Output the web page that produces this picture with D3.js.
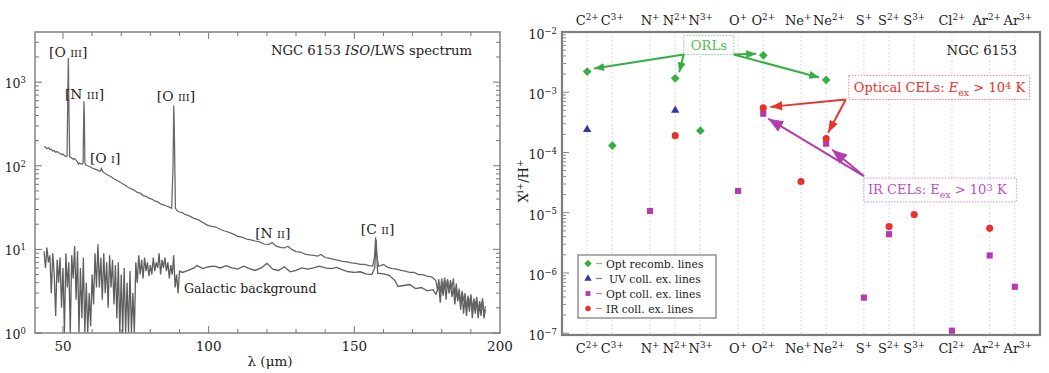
<!DOCTYPE html>
<html><head><meta charset="utf-8">
<script src="https://cdn.jsdelivr.net/npm/d3@7"></script>
<style>body{margin:0;background:#fff}svg{display:block}text{fill:#222}</style>
</head><body><svg id="c" width="1049" height="373" font-family="'DejaVu Serif', 'Liberation Serif', serif"></svg>
<script>
// ---------- Left panel data: NGC 6153 ISO/LWS spectrum ----------
const objWave = [43.6,44.5,45,45.5,46,46.5,47,47.5,48,48.5,49,49.5,50,50.5,51,51.4,51.7,51.85,52.0,52.3,53,53.5,54,54.5,55,55.3,55.6,56,56.5,56.9,57.2,57.35,57.5,57.8,58.5,59,59.5,60,61,62,62.8,63.2,63.6,64.5,65.5,66.5,67.5,68.5,69.5,70.5,71.5,72.5,73.5,74.5,75.5,76.5,77.5,78.5,79.5,80.5,81.5,82.5,83.5,84.5,85.5,86.5,87.3,87.8,88.0,88.2,88.6,89.2,90,91,92,93,94,95,96.5,98,99.5,101,102.5,104,105.5,107,108.5,110,111.5,113,114.5,116,117.5,119,120.5,121.8,123,124.5,126,127.2,128.5,130,131.5,133,134.5,136,137.5,138.5,140,141.5,143,144.5,146,147.5,149,150.5,152,153.5,155,156.3,156.9,157.3,157.7,158.3,159,160,161.5,163,164.5,166,167.5,169,170.5,172,173.5,175,176.5,177.5,178,178.5,179,179.5,180,180.5,181,181.5,182,182.5,183,183.5,184,184.5,185,185.5,186,186.5,187,187.5,188,188.5,189,189.5,190,190.5,191,191.5,192,192.5,193,193.5,194,194.5,195];
const objFlux = [172,160,165,156,158,150,152,145,148,143,140,136,138,132,130,131,900,1950,600,128,124,120,122,116,112,104,108,106,104,108,590,400,110,102,100,98,97,94,91,88,86,93,85,81,77,74,70,67,64,61,58,55,53,51,48,47,44,43,41,40,38,37,35,34,33,32,31,100,525,300,31,29,28,27.5,26,25.5,24.5,23.5,22.5,21,19.5,18.8,18.5,17.3,16.6,16,15.2,14.3,14,13.3,13,12.6,12.3,11.6,11.4,12.1,11,10.6,10.4,10.9,10,9.4,9.3,8.8,8.6,8.5,8.3,8.7,8.0,7.8,7.6,7.4,7.2,7.1,6.9,6.8,6.6,6.6,6.4,6.3,8,14,8.5,6.3,6.4,6.6,6.1,5.9,5.8,5.6,5.5,5.3,5.3,5.0,5.0,4.8,4.7,4.4,4.2,3.3,4.4,3.0,4.5,3.3,4.6,3.5,4.4,3.0,4.3,3.4,4.5,2.8,3.9,2.6,3.4,2.2,3.2,2.4,3.0,2.0,2.8,2.2,2.9,1.9,2.6,2.1,2.7,1.8,2.4,2.0,2.5,1.7,2.1];
const bgWave = [43.5,44,44.5,45,45.5,46,46.5,47,47.5,48,48.5,49,49.5,50,50.5,51,51.5,52,52.5,53,53.5,54,54.5,55,55.5,56,56.5,57,57.5,58,58.5,59,59.5,60,60.5,61,61.5,62,62.5,63,63.5,64,64.5,65,65.5,66,66.5,67,67.5,68,68.5,69,69.5,70,70.5,71,71.5,72,72.5,73,73.5,74,74.5,75,75.5,76,76.5,77,77.5,78,78.5,79,79.5,80,80.5,81,81.5,82,82.5,83,83.5,84,84.5,85,85.5,86,86.5,87,87.5,88,88.5,89,89.5,90,91,93,95,96,98,100,102,104,106,108,110,112,114,116,118,120,122,124,126,128,130,132,134,136,138,140,142,144,146,148,150,152,154,156,157,157.5,158,160,162,164,165,167,169,171,173,175,177,178,179,179.5,180,180.5,181,181.5,182,182.5,183,183.5,184,184.5,185,185.5,186,186.5,187,187.5,188,188.5,189,189.5,190,190.5,191,191.5,192,192.5,193,193.5,194,194.5,195];
const bgFlux = [9.5,6,10.5,7,8.5,3,9,5,1.6,7.5,4,8,2,6,0.8,9,3.5,7,0.6,8.5,4.5,11,2.5,9.5,0.7,6,1.5,8,0.9,4,0.5,3,1.2,5,2.2,9,3.5,11.5,3.5,8,2.5,9,3,7,2,8.5,3.5,7.5,2.2,6.5,1.5,7,1.0,5,0.6,6,0.8,4,0.5,5.5,0.6,3,0.5,7,4,8.5,5,7.5,4.5,8,5.5,7,4.8,6.5,5,8,5.5,7,6,9,5,7.5,6,8,5.5,7,4.5,6.5,5,8.5,3.5,5,3,5.5,5.3,5.6,6.0,6.4,5.9,6.2,6.3,6.0,6.4,6.0,5.8,6.3,5.9,5.6,6.0,6.8,5.8,5.6,6.2,5.4,5.6,6.0,5.8,6.0,6.3,6.0,5.9,6.1,5.7,5.4,5.3,5.4,5.1,5.0,6,13,5.2,5.1,4.9,4.2,3.6,3.7,3.8,3.4,3.5,3.2,3.3,2.9,3.6,2.3,3.8,2.8,4.2,2.5,4.3,3,4.0,2.7,3.5,2.2,3.3,2.4,3.1,1.9,3.0,1.7,2.7,1.6,2.6,1.8,2.8,1.5,2.4,1.7,2.5,1.5,2.2,1.6,2.6,1.5,1.9];
const xTicksL = [50,100,150,200];
const yDecadesL = [0,1,2,3];

// ---------- Right panel data: ionic abundances ----------
const ionNames   = ["C","C","N","N","N","O","O","Ne","Ne","S","S","S","Cl","Ar","Ar"];
const ionCharges = ["2+","3+","+","2+","3+","+","2+","+","2+","+","2+","3+","2+","2+","3+"];
const ionPos     = [0,1,2.5,3.5,4.5,6,7,8.5,9.5,11,12,13,14.5,16,17];
const orlIons = ["C2+","C3+","N2+","N3+","O2+","Ne2+"];
const orlVals = [2.2e-3,1.3e-4,1.7e-3,2.3e-4,4.1e-3,1.6e-3];
const uvIons  = ["C2+","N2+"];
const uvVals  = [2.4e-4,5.0e-4];
const optIons = ["N+","O+","O2+","Ne2+","S+","S2+","Cl2+","Ar2+","Ar3+"];
const optVals = [1.07e-5,2.3e-5,4.4e-4,1.4e-4,3.9e-7,4.4e-6,1.1e-7,1.95e-6,5.9e-7];
const irIons  = ["N2+","O2+","Ne+","Ne2+","S2+","S3+","Ar2+"];
const irVals  = [1.9e-4,5.5e-4,3.3e-5,1.7e-4,5.9e-6,9.3e-6,5.5e-6];
const yDecadesR = [-7,-6,-5,-4,-3,-2];
const legendLabels = ["Opt recomb. lines","UV coll. ex. lines","Opt coll. ex. lines","IR coll. ex. lines"];

const svg = d3.select("#c");

function supText(g, x, y, base, sup, size, anchor, color) {
  const t = g.append("text").attr("x", x).attr("y", y).attr("text-anchor", anchor)
    .attr("font-size", size).style("fill", color || "#222");
  t.append("tspan").text(base);
  t.append("tspan").attr("dy", -size * 0.42).attr("font-size", size * 0.68).text(sup);
  return t;
}

// ================= LEFT PANEL =================
const L = {l: 35, r: 500, t: 32, b: 333};
const xL = d3.scaleLinear().domain([40.4, 200]).range([L.l, L.r]);
const yL = d3.scaleLog().domain([1, 3981]).range([L.b, L.t]);
const gL = svg.append("g");

// values below the axis floor (1) are drawn on the bottom edge
const lineL = d3.line().x(d => xL(d[0])).y(d => yL(Math.max(d[1], 1)));
const bgPts = bgWave.map((w, i) => [w, bgFlux[i]]);
const objPts = objWave.map((w, i) => [w, objFlux[i]]);
gL.append("path").attr("d", lineL(bgPts))
  .attr("fill", "none").attr("stroke", "#5e5e5e").attr("stroke-width", 1.3);
gL.append("path").attr("d", lineL(objPts))
  .attr("fill", "none").attr("stroke", "#666").attr("stroke-width", 1.25);

gL.append("rect").attr("x", L.l).attr("y", L.t).attr("width", L.r - L.l).attr("height", L.b - L.t)
  .attr("fill", "none").attr("stroke", "#8a8a8a").attr("stroke-width", 1.6);
d3.range(50, 200, 10).forEach(v => {
  const len = xTicksL.includes(v) ? 7 : 4;
  gL.append("line").attr("x1", xL(v)).attr("x2", xL(v)).attr("y1", L.b).attr("y2", L.b - len).attr("stroke", "#777");
  gL.append("line").attr("x1", xL(v)).attr("x2", xL(v)).attr("y1", L.t).attr("y2", L.t + len).attr("stroke", "#777");
});
xTicksL.forEach(v => {
  gL.append("text").attr("x", xL(v)).attr("y", 351).attr("text-anchor", "middle").attr("font-size", 13.5).text(v);
});
yL.ticks().forEach(v => {
  const major = Math.abs(Math.log10(v) - Math.round(Math.log10(v))) < 1e-9;
  const len = major ? 7 : 4;
  gL.append("line").attr("x1", L.l).attr("x2", L.l + len).attr("y1", yL(v)).attr("y2", yL(v)).attr("stroke", "#777");
  gL.append("line").attr("x1", L.r).attr("x2", L.r - len).attr("y1", yL(v)).attr("y2", yL(v)).attr("stroke", "#777");
});
yDecadesL.forEach(d => supText(gL, 26, yL(Math.pow(10, d)) + 6, "10", String(d), 12.5, "end"));
gL.append("text").attr("x", 270).attr("y", 366).attr("text-anchor", "middle").attr("font-size", 13.5).text("λ (μm)");

const tt = gL.append("text").attr("x", 472).attr("y", 55).attr("text-anchor", "end").attr("font-size", 13.2);
tt.append("tspan").text("NGC 6153 ");
tt.append("tspan").attr("font-style", "italic").text("ISO");
tt.append("tspan").text("/LWS spectrum");

function lineLabel(x, y, el, ion) {
  const t = gL.append("text").attr("x", x).attr("y", y).attr("text-anchor", "middle").attr("font-size", 13.8);
  t.append("tspan").text("[" + el + " ");
  t.append("tspan").attr("font-size", 10).text(ion);
  t.append("tspan").text("]");
}
lineLabel(xL(51.8), 57, "O", "III");
lineLabel(xL(57.4), 99, "N", "III");
lineLabel(xL(88.8), 101, "O", "III");
lineLabel(xL(64.5), 163, "O", "I");
lineLabel(xL(122), 238, "N", "II");
lineLabel(xL(158), 234, "C", "II");
gL.append("text").attr("x", 184).attr("y", 293).attr("font-size", 12.6).text("Galactic background");

// ================= RIGHT PANEL =================
const R = {l: 562, r: 1040, t: 32, b: 335};
const xR = d3.scaleLinear().domain([-1, 18]).range([R.l, R.r]);
const yR = d3.scaleLog().domain([Math.pow(10, -7.03), 1e-2]).range([R.b, R.t]);
const gR = svg.append("g");
const posOf = {};
ionNames.forEach((n, i) => posOf[n + ionCharges[i]] = ionPos[i]);

ionPos.forEach(p => {
  gR.append("line").attr("x1", xR(p)).attr("x2", xR(p)).attr("y1", R.t).attr("y2", R.b)
    .attr("stroke", "#cdcde0").attr("stroke-width", 1).attr("stroke-dasharray", "1.5,2.5");
});
gR.append("rect").attr("x", R.l).attr("y", R.t).attr("width", R.r - R.l).attr("height", R.b - R.t)
  .attr("fill", "none").attr("stroke", "#7d7d7d").attr("stroke-width", 2.2);
yR.ticks().forEach(v => {
  const major = Math.abs(Math.log10(v) - Math.round(Math.log10(v))) < 1e-9;
  const len = major ? 7 : 4;
  gR.append("line").attr("x1", R.l).attr("x2", R.l + len).attr("y1", yR(v)).attr("y2", yR(v)).attr("stroke", "#888");
});
yDecadesR.forEach(d => supText(gR, 557, yR(Math.pow(10, d)) + 7, "10", "\u2212" + String(-d), 12.5, "end"));
const yt = gR.append("text").attr("transform", "translate(528,181) rotate(-90)").attr("text-anchor", "middle").attr("font-size", 13);
yt.append("tspan").text("X");
yt.append("tspan").attr("dy", -5).attr("font-size", 9).text("i+");
yt.append("tspan").attr("dy", 5).text("/H");
yt.append("tspan").attr("dy", -5).attr("font-size", 9).text("+");

[25, 353].forEach(yy => {
  const nodes = ionNames.map((n, i) => supText(gR, xR(ionPos[i]), yy, n, ionCharges[i], 13, "middle"));
  const shift = nodes.map(() => 0);
  for (let i = 0; i < nodes.length - 1; i++) {
    const a = nodes[i].node().getBBox(), b = nodes[i + 1].node().getBBox();
    const ov = (a.x + shift[i] + a.width + 1.5) - (b.x + shift[i + 1]);
    if (ov > 0) { shift[i] -= ov / 2; shift[i + 1] += ov / 2; }
  }
  nodes.forEach((t, i) => { if (shift[i]) t.attr("transform", `translate(${shift[i]},0)`); });
});

const cGreen = "#35b040", cBlue = "#2e3aa0", cMag = "#b43cb0", cRed = "#e8322c";
const sym = {
  diamond: d3.symbol().type(d3.symbolDiamond2).size(48),
  triangle: d3.symbol().type(d3.symbolTriangle).size(30),
  square: d3.symbol().type(d3.symbolSquare).size(38),
  circle: d3.symbol().type(d3.symbolCircle).size(40)
};
function drawSeries(ions, vals, shape, color) {
  gR.selectAll(null).data(ions.map((k, i) => [posOf[k], vals[i]])).enter().append("path")
    .attr("d", sym[shape]).attr("transform", d => `translate(${xR(d[0])},${yR(d[1])})`).attr("fill", color);
}
drawSeries(orlIons, orlVals, "diamond", cGreen);
drawSeries(uvIons, uvVals, "triangle", cBlue);
drawSeries(optIons, optVals, "square", cMag);
drawSeries(irIons, irVals, "circle", cRed);

gR.append("text").attr("x", 1017).attr("y", 55).attr("text-anchor", "end").attr("font-size", 13.3).text("NGC 6153");

const defs = svg.append("defs");
function marker(id, color, w, h) {
  defs.append("marker").attr("id", id).attr("markerUnits", "userSpaceOnUse")
    .attr("markerWidth", w).attr("markerHeight", h).attr("refX", w).attr("refY", h / 2)
    .attr("orient", "auto").append("path").attr("d", `M0,0L${w},${h / 2}L0,${h}z`).attr("fill", color);
}
marker("ag", cGreen, 10, 8);
marker("ar", cRed, 12, 9);
marker("am", cMag, 15, 12);
function arrow(x1, y1, x2, y2, color, mk, sw) {
  gR.append("line").attr("x1", x1).attr("y1", y1).attr("x2", x2).attr("y2", y2)
    .attr("stroke", color).attr("stroke-width", sw).attr("marker-end", `url(#${mk})`);
}
function box(x0, x1, v0, v1, color) {
  gR.append("rect").attr("x", xR(x0)).attr("y", yR(v0)).attr("width", xR(x1) - xR(x0)).attr("height", yR(v1) - yR(v0))
    .attr("fill", "#fff").attr("stroke", color).attr("stroke-width", 1).attr("stroke-dasharray", "1.5,1.5");
  return {x0: xR(x0), x1: xR(x1), y0: yR(v0), y1: yR(v1)};
}
const pt = (k, vals, ions) => [xR(posOf[k]), yR(vals[ions.indexOf(k)])];

const bO = box(3.84, 5.83, Math.pow(10, -2.06), Math.pow(10, -2.375), "#7cd07c");
gR.append("text").attr("x", (bO.x0 + bO.x1) / 2).attr("y", bO.y1 - 4.5).attr("text-anchor", "middle")
  .attr("font-size", 13.2).style("fill", "#55bb55").text("ORLs");
let p;
p = pt("C2+", orlVals, orlIons); arrow(bO.x0, bO.y1, p[0] + 7, p[1] - 3, cGreen, "ag", 2);
p = pt("N2+", orlVals, orlIons); arrow(bO.x0, bO.y1, p[0] + 4, p[1] - 6, cGreen, "ag", 2);
p = pt("O2+", orlVals, orlIons); arrow(bO.x1, bO.y1, p[0] - 7, p[1] - 1.5, cGreen, "ag", 2);
p = pt("Ne2+", orlVals, orlIons); arrow(bO.x1, bO.y1, p[0] - 7, p[1] - 2.5, cGreen, "ag", 2);

const bOp = box(10.4, 17.59, Math.pow(10, -2.72), Math.pow(10, -3.12), "#f08080");
const to = gR.append("text").attr("x", bOp.x0 + 5).attr("y", bOp.y0 + 16.5).attr("font-size", 13).style("fill", cRed);
to.append("tspan").text("Optical CELs: ");
to.append("tspan").attr("font-style", "italic").text("E");
to.append("tspan").attr("dy", 4).attr("font-size", 9.5).text("ex");
to.append("tspan").attr("dy", -4).text(" > 10");
to.append("tspan").attr("dy", -3).attr("font-size", 10).text("4");
to.append("tspan").attr("dy", 3).text(" K");
p = pt("O2+", irVals, irIons); arrow(bOp.x0 - 3, bOp.y1, p[0] + 7, p[1] - 1, cRed, "ar", 2);
p = pt("Ne2+", irVals, irIons); arrow(bOp.x0 - 3, bOp.y1, p[0] + 2, p[1] - 6, cRed, "ar", 2);

const bIR = box(11.0, 17.06, Math.pow(10, -4.425), Math.pow(10, -4.82), "#d890d8");
const ti = gR.append("text").attr("x", bIR.x0 + 4).attr("y", bIR.y0 + 16).attr("font-size", 13).style("fill", "#c050c0");
ti.append("tspan").text("IR CELs: E");
ti.append("tspan").attr("dy", 4).attr("font-size", 9.5).text("ex");
ti.append("tspan").attr("dy", -4).text(" > 10");
ti.append("tspan").attr("dy", -3).attr("font-size", 10).text("3");
ti.append("tspan").attr("dy", 3).text(" K");
p = pt("O2+", optVals, optIons); arrow(bIR.x0, bIR.y0 - 2, p[0] + 5, p[1] + 5, cMag, "am", 2);
p = pt("Ne2+", optVals, optIons); arrow(bIR.x0, bIR.y0 - 2, p[0] + 6, p[1] + 6, cMag, "am", 2);

const lg = gR.append("g");
lg.append("rect").attr("x", 578).attr("y", 255).attr("width", 138).attr("height", 63)
  .attr("fill", "#fff").attr("stroke", "#999").attr("stroke-width", 1.6);
const lgColors = [cGreen, cBlue, cMag, cRed];
const lgTypes = [d3.symbolDiamond2, d3.symbolTriangle, d3.symbolSquare, d3.symbolCircle];
legendLabels.forEach((lab, i) => {
  const y = 263.5 + i * 15;
  lg.append("path").attr("d", d3.symbol().type(lgTypes[i]).size(i === 0 ? 34 : 24))
    .attr("transform", `translate(588,${y})`).attr("fill", lgColors[i]);
  lg.append("line").attr("x1", 596).attr("x2", 602).attr("y1", y).attr("y2", y).attr("stroke", lgColors[i]).attr("stroke-opacity", 0.7).attr("stroke-width", 1.2);
  lg.append("text").attr("x", i === 1 ? 609 : 606).attr("y", y + 4).attr("font-size", 10.8).text(lab);
});
</script></body></html>
